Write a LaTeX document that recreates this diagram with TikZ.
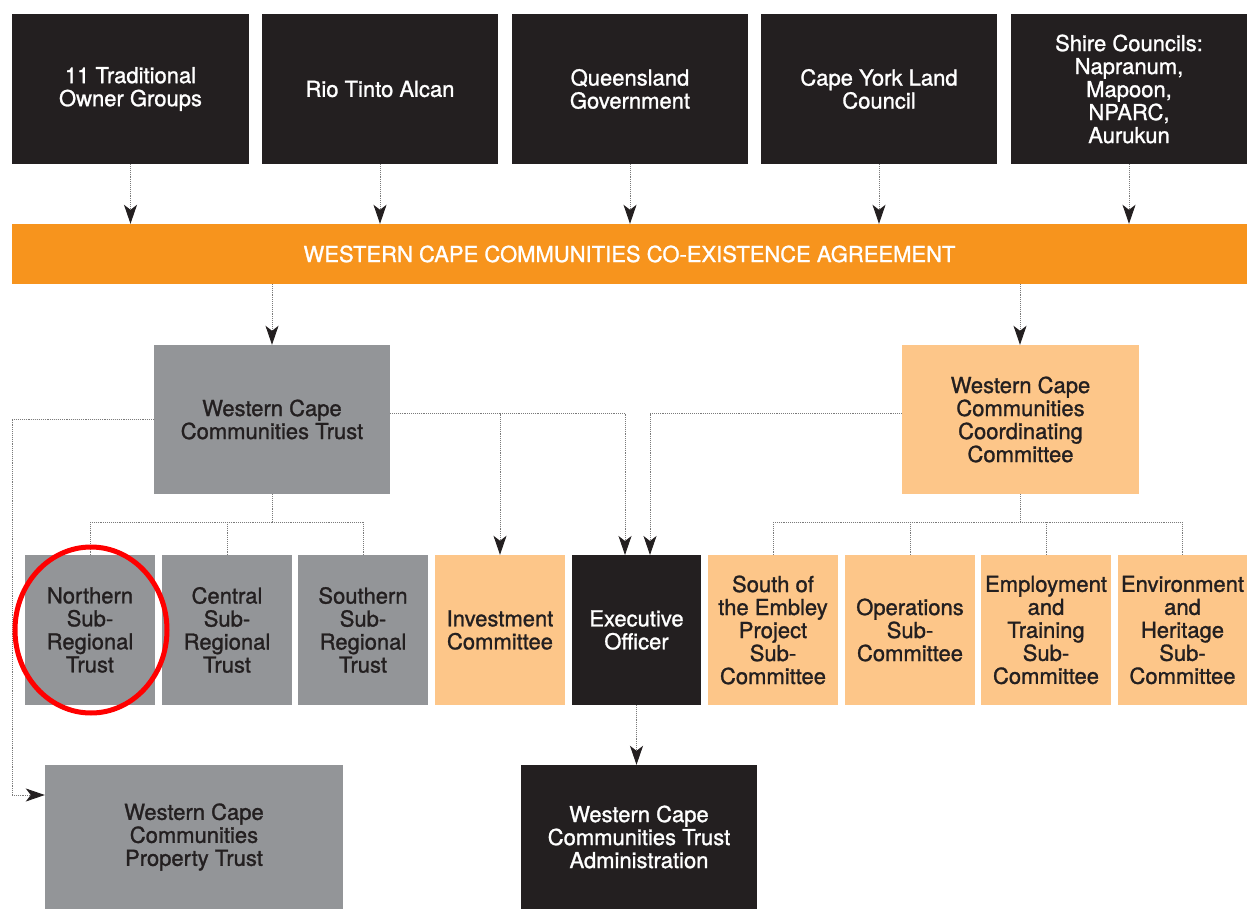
\documentclass[tikz,border=0pt]{standalone}
\usepackage{fontspec}
\setmainfont{TeX Gyre Heros}[FakeBold=1.2]
\usetikzlibrary{arrows.meta}
\definecolor{blk}{HTML}{231F20}
\definecolor{gry}{HTML}{939598}
\definecolor{org}{HTML}{F7941D}
\definecolor{lorg}{HTML}{FDC689}
\definecolor{lnc}{HTML}{7A7A7A}
\tikzset{
  x=1pt, y=-1pt,
  box/.style={rectangle, inner sep=0pt, align=center, font=\fontsize{22}{23}\selectfont},
  blackbox/.style={box, fill=blk, text=white},
  graybox/.style={box, fill=gry, text=blk},
  lobox/.style={box, fill=lorg, text=blk},
  dline/.style={draw=lnc, densely dotted, line width=0.9pt},
  tipa/.tip={Stealth[length=19pt, width=13pt, inset=5pt, color=blk, fill=blk]},
  arr/.style={dline, -tipa},
}
\begin{document}
\begin{tikzpicture}
\useasboundingbox (0,0) rectangle (1247,909);
% top row
\node[blackbox, minimum width=237, minimum height=150] (t1) at (130.5,89) {11 Traditional\\Owner Groups};
\node[blackbox, minimum width=236, minimum height=150] (t2) at (380,89) {Rio Tinto Alcan};
\node[blackbox, minimum width=236, minimum height=150] (t3) at (630,89) {Queensland\\Government};
\node[blackbox, minimum width=236, minimum height=150] (t4) at (879,89) {Cape York Land\\Council};
\node[blackbox, minimum width=236, minimum height=150] (t5) at (1129,89) {Shire Councils:\\Napranum,\\Mapoon,\\NPARC,\\Aurukun};
% agreement bar
\node[box, fill=org, text=white, minimum width=1235, minimum height=60] (wcca) at (629.5,254) {WESTERN CAPE COMMUNITIES CO-EXISTENCE AGREEMENT};
% second level
\node[graybox, minimum width=236, minimum height=149] (wct) at (272,419.5) {Western Cape\\Communities Trust};
\node[lobox, minimum width=237, minimum height=149] (wccc) at (1020.5,419.5) {Western Cape\\Communities\\Coordinating\\Committee};
% third row
\node[graybox, minimum width=130, minimum height=150] (nst) at (90,630) {Northern\\Sub-\\Regional\\Trust};
\node[graybox, minimum width=130, minimum height=150] (cst) at (227,630) {Central\\Sub-\\Regional\\Trust};
\node[graybox, minimum width=130, minimum height=150] (sst) at (363,630) {Southern\\Sub-\\Regional\\Trust};
\node[lobox, minimum width=130, minimum height=150] (inv) at (500,630) {Investment\\Committee};
\node[blackbox, minimum width=129, minimum height=150] (exo) at (636.5,630) {Executive\\Officer};
\node[lobox, minimum width=130, minimum height=150] (sem) at (773,630) {South of\\the Embley\\Project\\Sub-\\Committee};
\node[lobox, minimum width=130, minimum height=150] (ops) at (910,630) {Operations\\Sub-\\Committee};
\node[lobox, minimum width=130, minimum height=150] (emp) at (1046,630) {Employment\\and\\Training\\Sub-\\Committee};
\node[lobox, minimum width=129, minimum height=150] (env) at (1182.5,630) {Environment\\and\\Heritage\\Sub-\\Committee};
% bottom row
\node[graybox, minimum width=298, minimum height=144] (wcpt) at (194,837) {Western Cape\\Communities\\Property Trust};
\node[blackbox, minimum width=236, minimum height=144] (wcta) at (639,837) {Western Cape\\Communities Trust\\Administration};
% connectors top -> agreement
\foreach \n in {t1,t2,t3,t4,t5} {
  \draw[arr] (\n.south) -- (\n.south |- wcca.north);
}
% agreement -> trust / committee
\coordinate (a1) at (272,284);
\coordinate (a2) at (1020,284);
\draw[arr] (a1) -- (a1 |- wct.north);
\draw[arr] (a2) -- (a2 |- wccc.north);
% trust -> investment / executive
\coordinate (tr) at ([yshift=6]wct.east);
\coordinate (ex1) at (625,555);
\coordinate (ex2) at (650,555);
\draw[dline] (tr) -- (tr -| ex1);
\draw[arr] (tr -| ex1) -- (ex1);
\draw[arr] (tr -| inv.north) -- (inv.north);
% committee -> executive
\coordinate (cl) at ([yshift=6]wccc.west);
\draw[dline] (cl) -- (cl -| ex2);
\draw[arr] (cl -| ex2) -- (ex2);
% trust -> property trust
\coordinate (pl) at (12,419);
\coordinate (pb) at (12,795);
\draw[dline] (wct.west |- pl) -- (pl) -- (pb);
\draw[arr] (pb) -- (pb -| wcpt.west);
% trust -> sub-regional trusts
\coordinate (tb) at (272,522);
\draw[dline] (wct.south) -- (tb);
\draw[dline] (tb -| nst.north) -- (tb -| sst.north);
\foreach \n in {nst,cst,sst} { \draw[dline] (tb -| \n.north) -- (\n.north); }
% committee -> sub-committees
\coordinate (cb) at (1020,522);
\draw[dline] (cb |- wccc.south) -- (cb);
\draw[dline] (cb -| sem.north) -- (cb -| env.north);
\foreach \n in {sem,ops,emp,env} { \draw[dline] (cb -| \n.north) -- (\n.north); }
% executive -> administration
\draw[arr] (exo.south) -- (exo.south |- wcta.north);
% red highlight
\draw[red, line width=5pt] (91,630) ellipse [x radius=76, y radius=83];
\end{tikzpicture}
\end{document}
